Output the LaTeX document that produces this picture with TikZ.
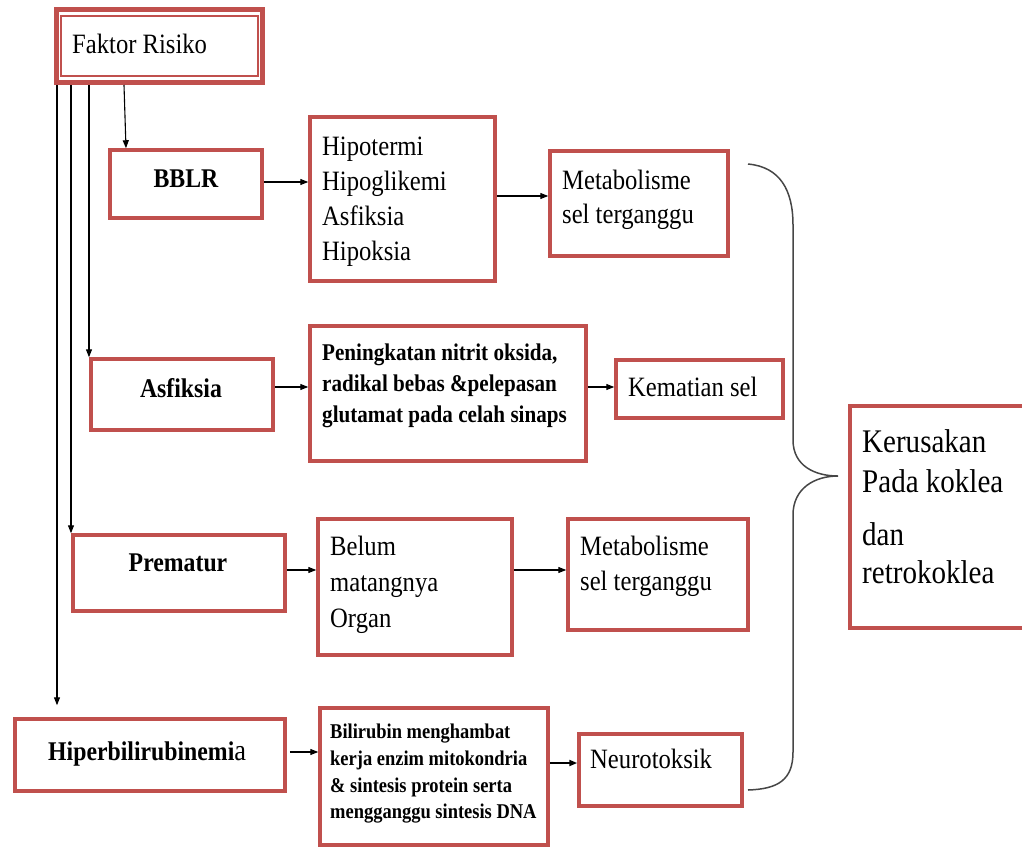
\documentclass[tikz,border=0pt]{standalone}
\usepackage{fontspec}
\setmainfont{Liberation Serif}[FakeStretch=0.88]
\usetikzlibrary{arrows.meta}
\definecolor{boxred}{RGB}{192,80,77}
\definecolor{bracegray}{RGB}{70,70,70}
\newcommand\fsreg{\fontsize{28pt}{34pt}\selectfont}
\newcommand\fsbig{\fontsize{33pt}{40pt}\selectfont}
\newcommand\fslab{\fontsize{27pt}{32pt}\selectfont\bfseries}
\newcommand\fspen{\fontsize{24pt}{29pt}\selectfont\bfseries}
\newcommand\fsbil{\fontsize{21pt}{26pt}\selectfont\bfseries}
\begin{document}
\begin{tikzpicture}[x=1pt,y=-1pt,
  box/.style={draw=boxred, line width=3.5pt, inner sep=0pt, anchor=center},
  txt/.style={inner sep=0pt, anchor=base west, font=\fsreg},
  big/.style={inner sep=0pt, anchor=base west, font=\fsbig},
  lab/.style={inner sep=0pt, anchor=base, font=\fslab},
  pen/.style={inner sep=0pt, anchor=base west, font=\fspen},
  bil/.style={inner sep=0pt, anchor=base west, font=\fsbil},
  arr/.style={draw=black, line width=1.1pt, -{Triangle[length=8pt,width=6pt]}}]
\useasboundingbox (0,0) rectangle (1022,846);
\clip (0,0) rectangle (1022,846);

% boxes
\node[box, line width=5pt, minimum width=206pt, minimum height=73pt] (faktor) at (159.5,46) {};
\draw[boxred, line width=1.3pt] (61,16) rectangle (258,76);
\node[box, minimum width=152pt, minimum height=68pt] (bblr) at (186,184) {};
\node[box, minimum width=185pt, minimum height=164pt] (hipo) at (402.5,199) {};
\node[box, minimum width=178pt, minimum height=105pt] (meta1) at (639,203.5) {};
\node[box, minimum width=182pt, minimum height=71pt] (asf) at (182,394.5) {};
\node[box, minimum width=276pt, minimum height=135pt] (pen) at (448,393.5) {};
\node[box, minimum width=167pt, minimum height=58pt] (kem) at (699.5,389) {};
\node[box, minimum width=212pt, minimum height=76pt] (prem) at (179,573) {};
\node[box, minimum width=194pt, minimum height=136pt] (belum) at (415,587) {};
\node[box, minimum width=180pt, minimum height=111pt] (meta2) at (658,574.5) {};
\node[box, minimum width=270pt, minimum height=72pt] (hiper) at (150,755) {};
\node[box, minimum width=228pt, minimum height=137pt] (bili) at (434,776.5) {};
\node[box, minimum width=163pt, minimum height=72pt] (neuro) at (660.5,770) {};
\node[box, minimum width=190pt, minimum height=222pt] (keru) at (945,517) {};

% texts
\node[txt] (tfak) at (72,53) {Faktor Risiko};
\node[lab] (tbblr) at (186,187) {BBLR};
\node[txt] (th1) at (322,155) {Hipotermi};
\node[txt] (th2) at (322,190) {Hipoglikemi};
\node[txt] (th3) at (322,225) {Asfiksia};
\node[txt] (th4) at (322,260) {Hipoksia};
\node[txt] (tm1) at (562,189) {Metabolisme};
\node[txt] (tm2) at (562,223) {sel terganggu};
\node[lab] (tasf) at (181,397) {Asfiksia};
\node[pen] (tp1) at (322,360) {Peningkatan nitrit oksida,};
\node[pen] (tp2) at (322,391) {radikal bebas \&pelepasan};
\node[pen] (tp3) at (322,422) {glutamat pada celah sinaps};
\node[txt] (tkem) at (628,396) {Kematian sel};
\node[lab] (tprem) at (178,571) {Prematur};
\node[txt] (tb1) at (330,555) {Belum};
\node[txt] (tb2) at (330,591) {matangnya};
\node[txt] (tb3) at (330,627) {Organ};
\node[txt] (tn1) at (580,555) {Metabolisme};
\node[txt] (tn2) at (580,590) {sel terganggu};
\node[inner sep=0pt, anchor=base west] (thip) at (48,760) {\fslab Hiperbilirubinemi{\fontsize{30pt}{30pt}\mdseries\selectfont a}};
\node[bil] (tl1) at (330,738) {Bilirubin menghambat};
\node[bil] (tl2) at (330,765) {kerja enzim mitokondria};
\node[bil] (tl3) at (330,792) {\& sintesis protein serta};
\node[bil] (tl4) at (330,818) {mengganggu sintesis DNA};
\node[txt] (tneu) at (590,768) {Neurotoksik};
\node[big] (tk1) at (862,452) {Kerusakan};
\node[big] (tk2) at (862,492) {Pada koklea};
\node[big] (tk3) at (862,545) {dan};
\node[big] (tk4) at (862,583) {retrokoklea};

% vertical connectors from Faktor Risiko
\coordinate (c1) at (57,0);
\coordinate (c2) at (71,0);
\coordinate (c3) at (89,0);
\coordinate (c4) at (124,0);
\coordinate (c5) at (126,0);
\draw[arr, shorten >=12pt] (c1 |- faktor.south) -- (c1 |- hiper.north);
\draw[arr] (c2 |- faktor.south) -- (c2 |- prem.north);
\draw[arr] (c3 |- faktor.south) -- (c3 |- asf.north);
\draw[arr] (c4 |- faktor.south) -- (c5 |- bblr.north);

% horizontal connectors
\coordinate (y1) at (0,182);
\coordinate (y2) at (0,196);
\coordinate (y3) at (0,387);
\coordinate (y4) at (0,570);
\coordinate (y5) at (0,752);
\coordinate (y6) at (0,763);
\draw[arr] (y1 -| bblr.east) -- (y1 -| hipo.west);
\draw[arr] (y2 -| hipo.east) -- (y2 -| meta1.west);
\draw[arr] (y3 -| asf.east) -- (y3 -| pen.west);
\draw[arr] (y3 -| pen.east) -- (y3 -| kem.west);
\draw[arr] (y4 -| prem.east) -- (y4 -| belum.west);
\draw[arr] (y4 -| belum.east) -- (y4 -| meta2.west);
\draw[arr, shorten <=3pt] (y5 -| hiper.east) -- (y5 -| bili.west);
\draw[arr, line width=2.2pt] (y6 -| bili.east) -- (y6 -| neuro.west);

% brace
\draw[bracegray, line width=1.5pt] (748,164) .. controls (780,167) and (793,190) .. (793,225)
  -- (793,440) .. controls (793,466) and (815,476) .. (838,476)
  .. controls (815,476) and (793,488) .. (793,515)
  -- (793,752) .. controls (793,780) and (778,789) .. (748,790);
\end{tikzpicture}
\end{document}
